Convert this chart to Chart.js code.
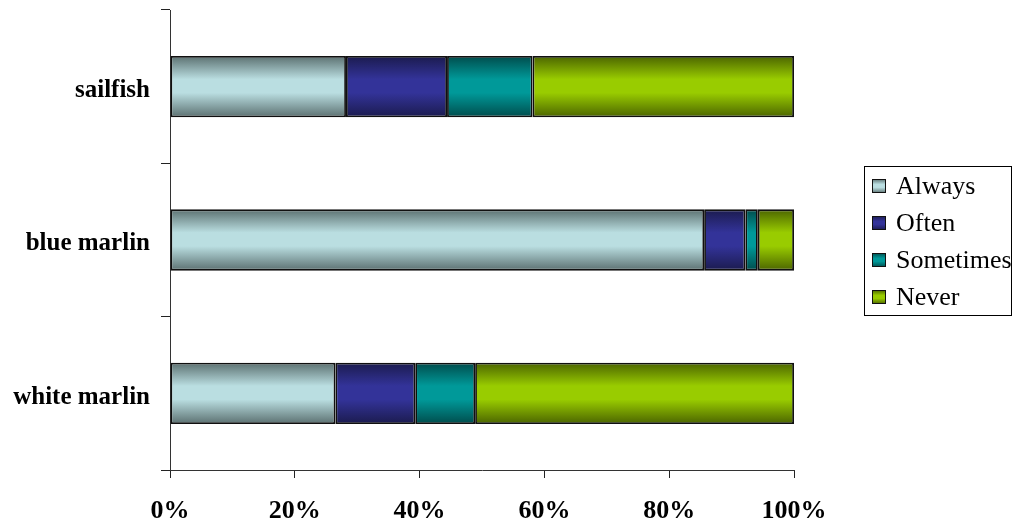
<!DOCTYPE html>
<html>
<head>
<meta charset="utf-8">
<script src="https://cdn.jsdelivr.net/npm/chart.js@4/dist/chart.umd.min.js"></script>
<style>
  body { margin: 0; background: #fff; }
  #wrap { width: 1012px; height: 527px; position: relative; }
</style>
</head>
<body>
<div id="wrap"><canvas id="chart"></canvas></div>
<script>
// categories, top to bottom
const species = ['sailfish', 'blue marlin', 'white marlin'];

// percent of answers per category
const always    = [28.2, 85.6, 26.5];
const often     = [16.2, 6.6, 12.8];
const sometimes = [13.7, 2.0, 9.6];
const never     = [41.9, 5.8, 51.1];

const xTicks = [0, 20, 40, 60, 80, 100];

// [edge colour, centre colour] for the shaded bars
const shades = {
  Always:    ['#5b7070', '#badee1'],
  Often:     ['#1b1b4e', '#333399'],
  Sometimes: ['#004c4c', '#009999'],
  Never:     ['#4b6400', '#99cc00']
};

const barPct = 0.4;
const serif = '"Liberation Serif", "Times New Roman", serif';

function shade(g, pair) {
  g.addColorStop(0, pair[0]);
  g.addColorStop(0.38, pair[1]);
  g.addColorStop(0.6, pair[1]);
  g.addColorStop(1, pair[0]);
  return g;
}

function barFill(name) {
  return function(ctx) {
    const chart = ctx.chart;
    if (!chart.chartArea || ctx.dataIndex === undefined) return shades[name][1];
    const y = chart.scales.y;
    const mid = y.getPixelForValue(ctx.dataIndex);
    const half = (y.height / species.length) * barPct / 2;
    const g = chart.ctx.createLinearGradient(0, mid - half, 0, mid + half);
    return shade(g, shades[name]);
  };
}

function makeSet(label, data) {
  return {
    label: label,
    data: data,
    backgroundColor: barFill(label),
    borderColor: '#101010',
    borderWidth: 1.8,
    borderSkipped: false,
    barPercentage: 1,
    categoryPercentage: barPct
  };
}

// legend drawn by hand so the box sits where the original has it
const boxLegend = {
  id: 'boxLegend',
  afterDraw(chart) {
    const c = chart.ctx;
    c.save();
    c.strokeStyle = '#000';
    c.lineWidth = 1;
    c.strokeRect(864.5, 166.5, 147, 149);
    c.font = '26px ' + serif;
    c.textBaseline = 'middle';
    chart.data.datasets.forEach((ds, i) => {
      const cy = 186 + i * 37;
      const g = c.createLinearGradient(0, cy - 7, 0, cy + 7);
      c.fillStyle = shade(g, shades[ds.label]);
      c.fillRect(872, cy - 7, 14, 14);
      c.strokeStyle = '#111';
      c.strokeRect(872.5, cy - 6.5, 13, 13);
      c.fillStyle = '#000';
      c.fillText(ds.label, 896, cy + 1);
    });
    c.restore();
  }
};

const serifBold = { family: serif, size: 25, weight: 'bold' };

new Chart(document.getElementById('chart'), {
  type: 'bar',
  data: {
    labels: species,
    datasets: [
      makeSet('Always', always),
      makeSet('Often', often),
      makeSet('Sometimes', sometimes),
      makeSet('Never', never)
    ]
  },
  options: {
    indexAxis: 'y',
    responsive: true,
    maintainAspectRatio: false,
    animation: false,
    layout: { padding: { top: 10, right: 218, left: 0, bottom: 0 } },
    plugins: {
      legend: { display: false },
      tooltip: { enabled: false }
    },
    scales: {
      x: {
        stacked: true,
        min: 0,
        max: 100,
        afterBuildTicks: (s) => { s.ticks = xTicks.map(v => ({ value: v })); },
        ticks: {
          callback: (v) => v + '%',
          color: '#000',
          font: { family: serif, size: 26, weight: 'bold' },
          padding: 18,
          maxRotation: 0
        },
        grid: { drawOnChartArea: false, tickLength: 8, color: '#222' },
        border: { color: '#333', width: 1 },
        afterFit: (s) => { s.height = 57; s.paddingLeft = 0; s.paddingRight = 0; }
      },
      y: {
        stacked: true,
        ticks: { color: '#000', font: serifBold, padding: 11, labelOffset: 4 },
        grid: { drawOnChartArea: false, tickLength: 9, offset: true, color: '#222' },
        border: { color: '#333', width: 1 },
        afterFit: (s) => { s.width = 170; s.paddingTop = 0; s.paddingBottom = 0; }
      }
    }
  },
  plugins: [boxLegend]
});
</script>
</body>
</html>
